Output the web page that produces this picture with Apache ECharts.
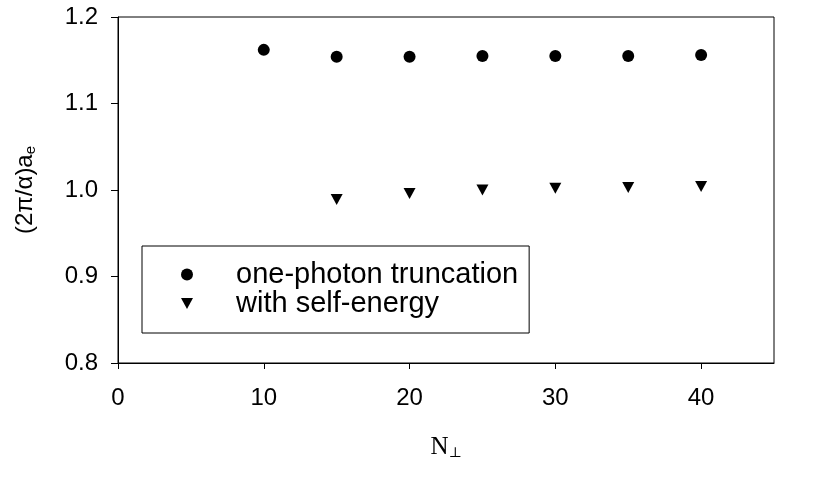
<!DOCTYPE html>
<html>
<head>
<meta charset="utf-8">
<script src="https://cdn.jsdelivr.net/npm/echarts@6/dist/echarts.min.js"></script>
<style>html,body{margin:0;padding:0;background:#fff;}#c{width:817px;height:478px;}</style>
</head>
<body>
<div id="c"></div>
<script>
var xTruncation = [10, 15, 20, 25, 30, 35, 40];
var yTruncation = [1.162, 1.154, 1.154, 1.155, 1.155, 1.155, 1.156];
var xSelfEnergy = [15, 20, 25, 30, 35, 40];
var ySelfEnergy = [0.989, 0.996, 1.000, 1.002, 1.003, 1.004];
var seriesNames = ['one-photon truncation', 'with self-energy'];
var xTicks = [0, 10, 20, 30, 40];
var yTicks = ['0.8', '0.9', '1.0', '1.1', '1.2'];

function pairs(xs, ys) { return xs.map(function (x, i) { return [x, ys[i]]; }); }

var downTri = 'path://M0,0 L12,0 L6,11 Z';
var chart = echarts.init(document.getElementById('c'));
chart.setOption({
  animation: false,
  backgroundColor: '#fff',
  grid: { left: 118, right: 43, top: 17, bottom: 115, show: true, borderColor: '#000', borderWidth: 1, backgroundColor: 'transparent' },
  xAxis: {
    type: 'value', min: 0, max: 45, interval: 10,
    axisLine: { show: true, onZero: false, lineStyle: { color: '#000', width: 1 } },
    axisTick: { show: true, inside: false, length: 6, lineStyle: { color: '#000' }, customValues: xTicks },
    splitLine: { show: false },
    axisLabel: {
      margin: 23, color: '#000', fontFamily: 'Liberation Sans', fontSize: 24,
      customValues: xTicks,
      formatter: function (v) { return String(v); }
    },
    name: '{n|N}{s|⊥}', nameLocation: 'middle', nameGap: 71,
    nameTextStyle: {
      rich: {
        n: { fontFamily: 'Liberation Serif', fontSize: 25, color: '#000' },
        s: { fontFamily: 'DejaVu Serif', fontSize: 14, color: '#000', padding: [12, 0, 0, 0] }
      }
    }
  },
  yAxis: {
    type: 'value', min: 0.8, max: 1.2, interval: 0.1,
    axisLine: { show: true, onZero: false, lineStyle: { color: '#000', width: 1 } },
    axisTick: { show: true, inside: false, length: 7, lineStyle: { color: '#000' } },
    splitLine: { show: false },
    axisLabel: {
      margin: 20, color: '#000', fontFamily: 'Liberation Sans', fontSize: 24,
      formatter: function (v) { return yTicks[Math.round((v - 0.8) * 10)]; }
    },
    name: '{m|(2π/α)a}{s|e}', nameLocation: 'middle', nameGap: 80, nameRotate: 90,
    nameTextStyle: {
      rich: {
        m: { fontFamily: 'Liberation Sans', fontSize: 24, color: '#000' },
        s: { fontFamily: 'Liberation Sans', fontSize: 15, color: '#000', padding: [11, 0, 0, 0] }
      }
    }
  },
  legend: {
    orient: 'vertical', left: 142, top: 246,
    padding: [14, 11, 15, 39], itemGap: 0,
    itemWidth: 12, itemHeight: 12,
    borderColor: '#000', borderWidth: 1, backgroundColor: '#fff',
    textStyle: { fontFamily: 'Liberation Sans', fontSize: 29, color: '#000', lineHeight: 29, padding: [0, 0, 0, 38] },
    data: [
      { name: seriesNames[0], icon: 'circle' },
      { name: seriesNames[1], icon: 'path://M0,0 L10,0 L5,9 Z' }
    ]
  },
  series: [
    {
      name: seriesNames[0], type: 'scatter', symbol: 'circle', symbolSize: 12,
      itemStyle: { color: '#000', opacity: 1 },
      data: pairs(xTruncation, yTruncation)
    },
    {
      name: seriesNames[1], type: 'scatter', symbol: downTri, symbolSize: [12, 11],
      itemStyle: { color: '#000', opacity: 1 },
      data: pairs(xSelfEnergy, ySelfEnergy)
    }
  ]
});
</script>
</body>
</html>
